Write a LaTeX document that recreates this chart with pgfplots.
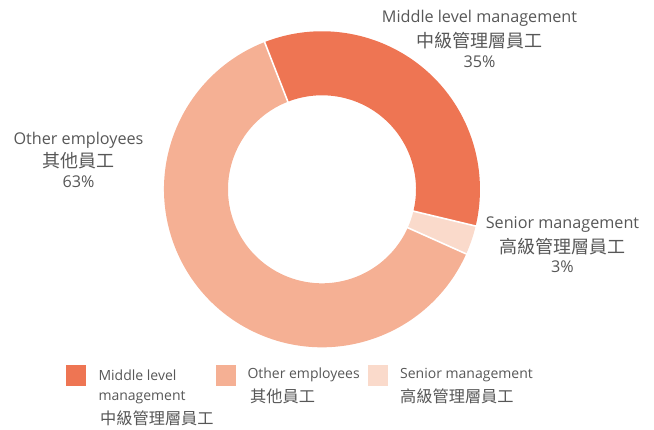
\documentclass[border=0pt]{standalone}
\usepackage{pgfplots}
\usepackage{pgfplotstable}
\pgfplotsset{compat=1.18}
\usepackage{fontspec}
\setmainfont{Open Sans}
\newfontfamily\cjk{Noto Sans CJK TC}
\definecolor{midc}{HTML}{EE7553}
\definecolor{othc}{HTML}{F5B094}
\definecolor{senc}{HTML}{FADACB}
\definecolor{txt}{HTML}{575757}

\pgfplotstableread{
label value
Middle 35
Senior 3
Other 63
}\datatable
\def\cx{322}\def\cy{240.7}
\def\labfont{\fontsize{16.2}{19}\selectfont}
\def\labcjk{\cjk\fontsize{18}{21}\selectfont}
\def\legfont{\fontsize{14}{17}\selectfont}
\def\legcjk{\cjk\fontsize{16.2}{19}\selectfont}

\begin{document}%
\begin{tikzpicture}
\pgfplotstablegetelem{0}{value}\of\datatable \let\vA\pgfplotsretval
\pgfplotstablegetelem{1}{value}\of\datatable \let\vB\pgfplotsretval
\pgfplotstablegetelem{2}{value}\of\datatable \let\vC\pgfplotsretval
\pgfmathsetmacro\tot{\vA+\vB+\vC}
\pgfmathsetmacro\aA{111.3}
\pgfmathsetmacro\aB{\aA-(\vA/\tot)*360}
\pgfmathsetmacro\aC{\aB-(\vB/\tot)*360}
\pgfmathsetmacro\aD{\aC-(\vC/\tot)*360}
\begin{axis}[
  x=1pt, y=1pt,
  xmin=0, xmax=654, ymin=0, ymax=430,
  hide axis, clip=false,
]
\path (axis cs:0,0) rectangle (axis cs:654,430);
% slices
\fill[midc] (axis cs:\cx,\cy) ++(\aA:158pt) arc[start angle=\aA, end angle=\aB, radius=158pt] -- ++(\aB+180:64pt) arc[start angle=\aB, end angle=\aA, radius=94pt] -- cycle;
\fill[senc] (axis cs:\cx,\cy) ++(\aB:158pt) arc[start angle=\aB, end angle=\aC, radius=158pt] -- ++(\aC+180:64pt) arc[start angle=\aC, end angle=\aB, radius=94pt] -- cycle;
\fill[othc] (axis cs:\cx,\cy) ++(\aC:158pt) arc[start angle=\aC, end angle=\aD, radius=158pt] -- ++(\aD+180:64pt) arc[start angle=\aD, end angle=\aC, radius=94pt] -- cycle;
% separators
\draw[white, line width=1.6pt] (axis cs:\cx,\cy) ++(\aA:92pt) -- ++(\aA:68pt);
\draw[white, line width=1.6pt] (axis cs:\cx,\cy) ++(\aB:92pt) -- ++(\aB:68pt);
\draw[white, line width=1.6pt] (axis cs:\cx,\cy) ++(\aC:92pt) -- ++(\aC:68pt);
% labels
\begin{scope}[every node/.style={text=txt, inner sep=0pt}]
\node at (axis cs:479.5,412) {\labfont Middle level management};
\node at (axis cs:479.5,389) {\labcjk 中級管理層員工};
\node at (axis cs:479.5,368) {\labfont 35\%};
\node at (axis cs:78.5,289.3) {\labfont Other employees};
\node at (axis cs:78.5,269.3) {\labcjk 其他員工};
\node at (axis cs:78.5,248.3) {\labfont 63\%};
\node at (axis cs:562.5,205) {\labfont Senior management};
\node at (axis cs:562.5,183.3) {\labcjk 高級管理層員工};
\node at (axis cs:562.5,163.3) {\labfont 3\%};
% legend
\fill[midc] (axis cs:66,44) rectangle (axis cs:86,65);
\fill[othc] (axis cs:216,44) rectangle (axis cs:236,65);
\fill[senc] (axis cs:368.3,44) rectangle (axis cs:388.3,65);
\node[anchor=west] at (axis cs:98.3,55) {\legfont Middle level};
\node[anchor=west] at (axis cs:98.3,32) {\legfont management};
\node[anchor=west] at (axis cs:100,12) {\legcjk 中級管理層員工};
\node[anchor=west] at (axis cs:247.3,55) {\legfont Other employees};
\node[anchor=west] at (axis cs:250,33.3) {\legcjk 其他員工};
\node[anchor=west] at (axis cs:400,55) {\legfont Senior management};
\node[anchor=west] at (axis cs:400,33.3) {\legcjk 高級管理層員工};
\end{scope}
\end{axis}
\end{tikzpicture}%
\end{document}
